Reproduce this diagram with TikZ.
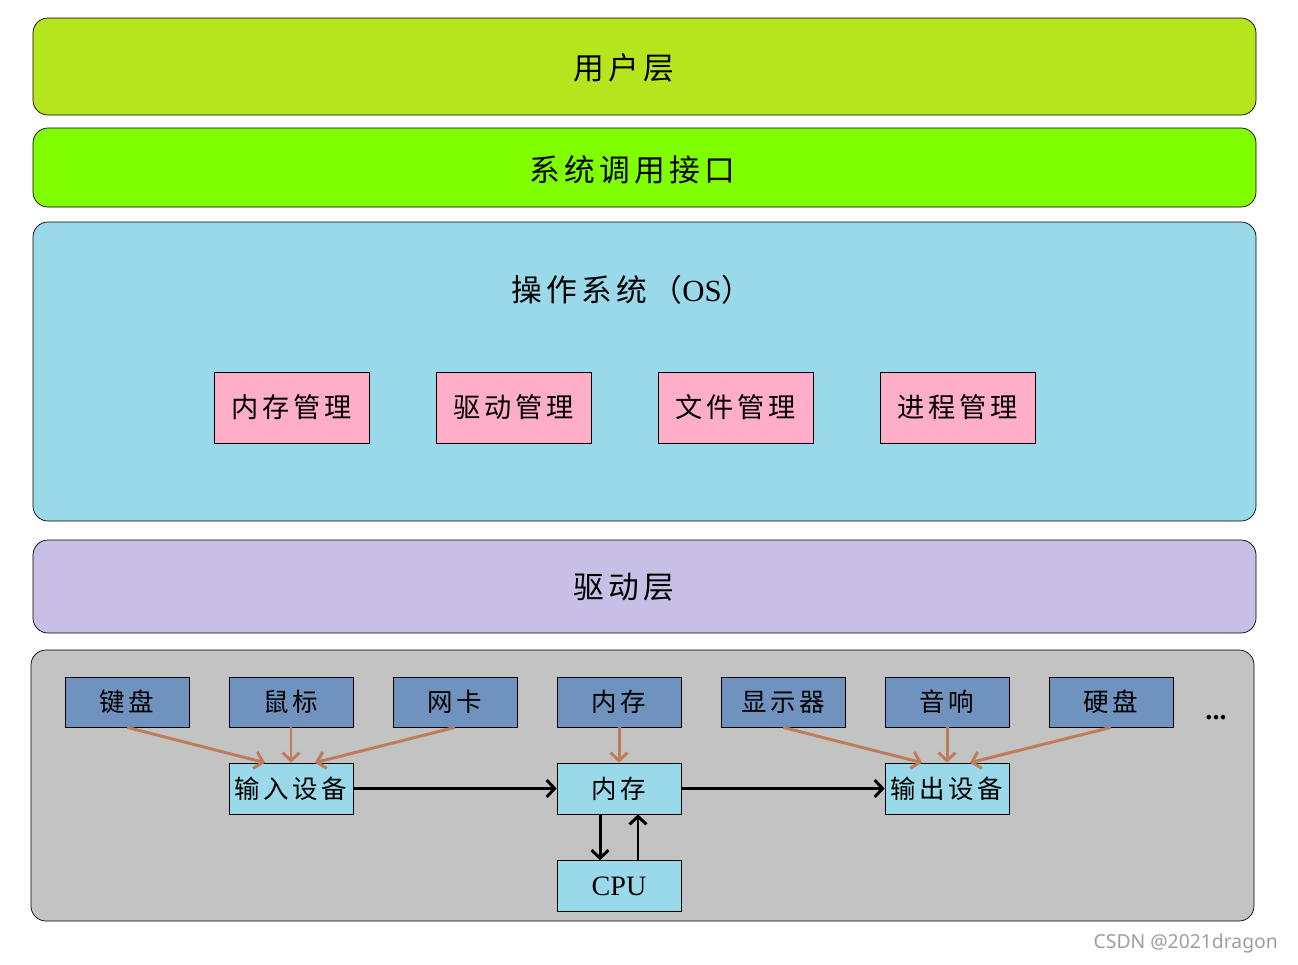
\documentclass[tikz,border=0pt]{standalone}
\usepackage{fontspec}
\setmainfont{Liberation Serif}
\newfontfamily\cjk[LetterSpace=14]{Noto Sans CJK SC}
\newfontfamily\markfont{Noto Sans}
\usetikzlibrary{arrows.meta,positioning}
\definecolor{userc}{HTML}{B5E61D}
\definecolor{callc}{HTML}{80FF00}
\definecolor{osc}{HTML}{99D9EA}
\definecolor{drvc}{HTML}{C8BFE7}
\definecolor{hwc}{HTML}{C3C3C3}
\definecolor{modc}{HTML}{FFAEC9}
\definecolor{devc}{HTML}{7092BE}
\definecolor{feedc}{HTML}{BE7D5A}
\tikzset{
  layer/.style  ={draw=black,thin,rounded corners=0.3cm},
  title/.style  ={font=\cjk\fontsize{17.5}{20}\selectfont},
  module/.style ={draw=black,thin,fill=modc,minimum width=3.1cm,
                  minimum height=1.42cm,inner sep=0pt,font=\cjk\fontsize{15.5}{18}\selectfont},
  dev/.style    ={draw=black,thin,fill=devc,minimum width=2.48cm,
                  minimum height=1.0cm,inner sep=0pt,font=\cjk\fontsize{14.5}{17}\selectfont},
  unit/.style   ={dev,fill=osc,minimum height=1.02cm},
  feed/.style   ={-{Straight Barb[length=1.6mm,width=3.4mm]},line width=1.7pt,feedc},
  flow/.style   ={-{Straight Barb[length=1.6mm,width=3.4mm]},line width=1.7pt,black},
}

\begin{document}
\begin{tikzpicture}[x=0.02cm,y=-0.02cm]
    \useasboundingbox (0,0) rectangle (1298,964);
    % layers
    \path[layer,fill=userc] (33,18)  rectangle (1256,115);
    \path[layer,fill=callc] (33,128) rectangle (1256,207);
    \path[layer,fill=osc]   (33,222) rectangle (1256,521);
    \path[layer,fill=drvc]  (33,540) rectangle (1256,633);
    \path[layer,fill=hwc]   (31,650) rectangle (1254,921);
    \node[title] (user) at (624,68)  {用户层};
    \node[title] (call) at (632,170) {系统调用接口};
    \node[title] (os)   at (632,290) {操作系统（\rmfamily OS\cjk）};
    \node[title] (drv)  at (624,587) {驱动层};

    % os modules
    \node[module] (mm) at (291.5,407.5) {内存管理};
    \node[module] (dm) at (513.5,407.5) {驱动管理};
    \node[module] (fm) at (735.5,407.5) {文件管理};
    \node[module] (pm) at (957.5,407.5) {进程管理};

    % hardware
    \node[dev] (kb)   at (127,702)  {键盘};
    \node[dev] (ms)   at (291,702)  {鼠标};
    \node[dev] (nic)  at (455,702)  {网卡};
    \node[dev] (ram)  at (619,702)  {内存};
    \node[dev] (scr)  at (783,702)  {显示器};
    \node[dev] (spk)  at (947,702)  {音响};
    \node[dev] (disk) at (1111,702) {硬盘};
    \node[font=\bfseries\fontsize{16}{18}\selectfont] (more) at (1216,718) {...};
    \node[unit] (in)  at (291,788.5) {输入设备};
    \node[unit] (mem) at (619,788.5) {内存};
    \node[unit] (out) at (947,788.5) {输出设备};
    \node[unit,font=\fontsize{16}{18}\selectfont] (cpu) at (619,886) {CPU};

    % links
    \draw[feed] (kb.south)   -- ([xshift=-0.52cm]in.north);
    \draw[feed] (ms.south)   -- (in.north);
    \draw[feed] (nic.south)  -- ([xshift=0.48cm]in.north);
    \draw[feed] (ram.south)  -- (mem.north);
    \draw[feed] (scr.south)  -- ([xshift=-0.5cm]out.north);
    \draw[feed] (spk.south)  -- (out.north);
    \draw[feed] (disk.south) -- ([xshift=0.46cm]out.north);
    \draw[flow] (in.east)  -- (mem.west);
    \draw[flow] (mem.east) -- (out.west);
    \draw[flow] ([xshift=-0.38cm]mem.south) -- ([xshift=-0.38cm]cpu.north);
    \draw[flow] ([xshift=0.38cm]cpu.north)  -- ([xshift=0.38cm]mem.south);

    \node[font=\markfont\fontsize{11}{13}\selectfont,black!38,anchor=east] (mark) at (1284,943) {CSDN @2021dragon};
  \end{tikzpicture}
\end{document}
